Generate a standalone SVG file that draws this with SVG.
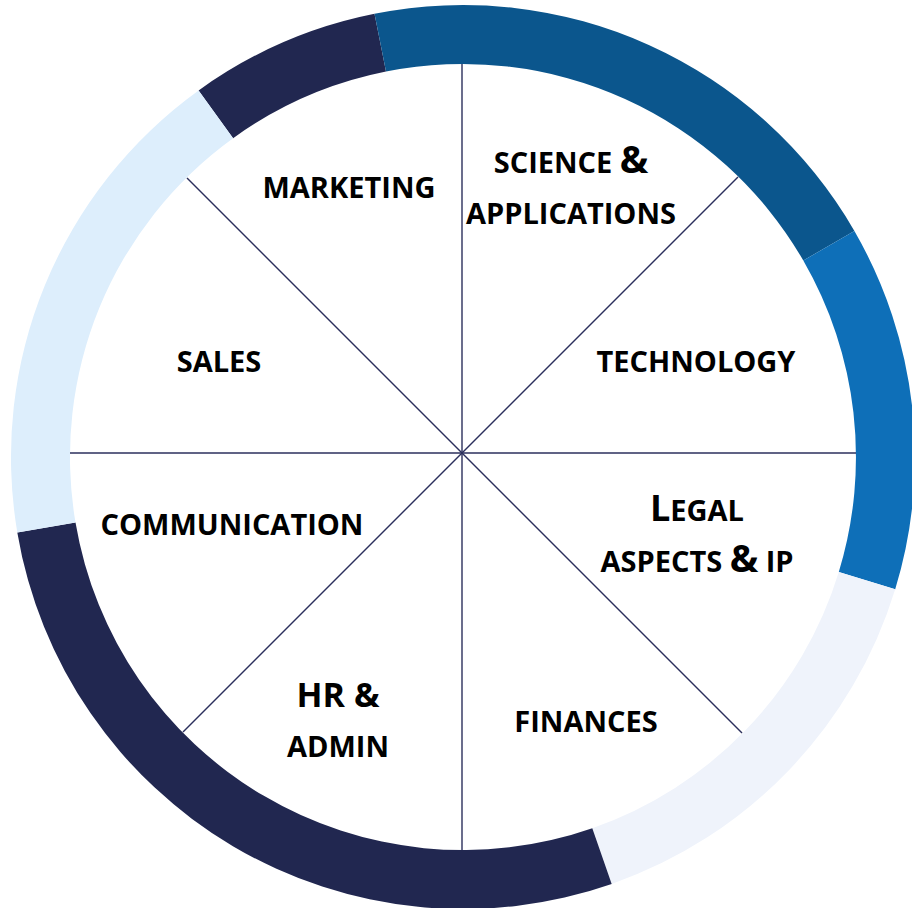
<svg xmlns="http://www.w3.org/2000/svg" width="912" height="908" viewBox="0 0 912 908">
<style>
.lbl{font-family:"Open Sans","Liberation Sans",sans-serif;font-weight:700;font-size:29px;fill:#000;text-anchor:middle}
.big{font-size:38px}
.cap{font-size:36px}
.spoke{stroke:#2b2f5c;stroke-width:1.4;fill:none}
</style>
<rect width="912" height="908" fill="#fff"/>
<g id="ring">
<path d="M198.6 90.4 A452 452 0 0 1 374.5 13.8 L386 71.6 A393 393 0 0 0 233.1 138.2 Z" fill="#212750"/>
<path d="M374.5 13.8 A452 452 0 0 1 854.4 231 L803.3 260.5 A393 393 0 0 0 386 71.6 Z" fill="#0b568d"/>
<path d="M854.4 231 A452 452 0 0 1 895.2 589.2 L838.8 571.9 A393 393 0 0 0 803.3 260.5 Z" fill="#0e6fb8"/>
<path d="M895.2 589.2 A452 452 0 0 1 611.7 883.9 L592.3 828.2 A393 393 0 0 0 838.8 571.9 Z" fill="#eff3fb"/>
<path d="M611.7 883.9 A452 452 0 0 1 17.3 532.4 L75.5 522.6 A393 393 0 0 0 592.3 828.2 Z" fill="#212750"/>
<path d="M17.3 532.4 A452 452 0 0 1 198.6 90.4 L233.1 138.2 A393 393 0 0 0 75.5 522.6 Z" fill="#ddeefc"/>
</g>
<g id="connectors">
<line class="spoke" x1="462" y1="64" x2="462" y2="850"/>
<line class="spoke" x1="70" y1="453" x2="856" y2="453"/>
<line class="spoke" x1="187" y1="178" x2="742" y2="733"/>
<line class="spoke" x1="738" y1="177" x2="183" y2="732"/>
</g>
<g id="marketing"><text class="lbl" x="349" y="198">MARKETING</text></g>
<g id="science"><text class="lbl" x="571" y="173">SCIENCE <tspan class="big">&amp;</tspan></text><text class="lbl" x="571" y="224">APPLICATIONS</text></g>
<g id="sales"><text class="lbl" x="219" y="372">SALES</text></g>
<g id="technology"><text class="lbl" x="696" y="372">TECHNOLOGY</text></g>
<g id="communication"><text class="lbl" x="232" y="535">COMMUNICATION</text></g>
<g id="legal"><text class="lbl" x="697" y="521"><tspan class="cap">L</tspan>EGAL</text><text class="lbl" x="697" y="572">ASPECTS <tspan class="big">&amp;</tspan> IP</text></g>
<g id="finances"><text class="lbl" x="586" y="732">FINANCES</text></g>
<g id="hr"><text class="lbl" x="338" y="707" style="font-size:34px">HR &amp;</text><text class="lbl" x="338" y="757">ADMIN</text></g>
</svg>
